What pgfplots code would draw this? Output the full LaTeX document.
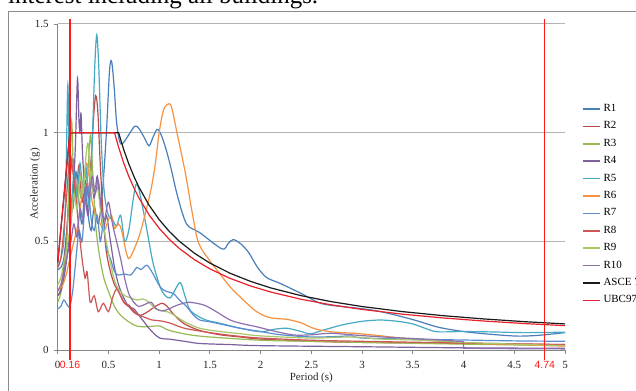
\documentclass[border=0pt]{standalone}
\usepackage{pgfplots}
\pgfplotsset{compat=1.18}
\usepackage{fontspec}
\setmainfont{Liberation Serif}
\newfontfamily\sansf{Liberation Sans}
\definecolor{cR1}{HTML}{4A7EBB}
\definecolor{cR2}{HTML}{BE4B48}
\definecolor{cR3}{HTML}{98B954}
\definecolor{cR4}{HTML}{7D60A0}
\definecolor{cR5}{HTML}{46AAC5}
\definecolor{cR6}{HTML}{F69240}
\definecolor{cR7}{HTML}{5A8ED0}
\definecolor{cR8}{HTML}{CD5754}
\definecolor{cR9}{HTML}{A7C86A}
\definecolor{cR10}{HTML}{8D70B0}
\definecolor{cASCE}{HTML}{1A1A1A}
\definecolor{cUBC}{HTML}{E8222A}
\definecolor{vred}{HTML}{FF1A1A}
\definecolor{axgray}{HTML}{868686}
\definecolor{gridgray}{HTML}{B4B4B4}
\definecolor{framegray}{HTML}{8C8C8C}
\begin{document}
\begin{tikzpicture}[x=1bp,y=1bp]
\useasboundingbox (0,0) rectangle (636,390);
\fill[white] (0,0) rectangle (636,390);
\node[anchor=base west, inner sep=0pt, font=\fontsize{25}{28}\selectfont] at (8,386.5) {interest including all buildings.};
\draw[color=framegray, line width=0.8bp] (8.3,-10) -- (8.3,378.3) -- (650,378.3);
\begin{axis}[
  at={(57.7bp,40bp)}, anchor=south west, scale only axis,
  width=507.3bp, height=326bp,
  xmin=0, xmax=5, ymin=0, ymax=1.5,
  xtick={0,0.5,1,1.5,2,2.5,3,3.5,4,4.5,5},
  ytick={0,0.5,1,1.5},
  axis lines*=left,
  axis line style={draw=axgray, line width=0.8bp},
  tick align=outside, major tick length=3.5bp,
  tick style={draw=axgray, line width=0.8bp},
  ymajorgrids, grid style={draw=gridgray, line width=1bp},
  clip=false,
  /pgf/number format/assume math mode=true,
  tick label style={font=\fontsize{11}{13}\selectfont, text=black!85},
  xticklabel style={yshift=-4bp},
  yticklabel style={xshift=-2bp},
  label style={font=\fontsize{11}{13}\selectfont, text=black!85},
  xlabel={Period (s)}, ylabel={Acceleration (g)},
  xlabel style={at={(axis description cs:0.5,-0.0859)}, anchor=center},
  ylabel style={at={(axis description cs:-0.0447,0.509)}, anchor=center},
  extra x ticks={0.121,4.80},
  extra x tick labels={0.16,4.74},
  extra x tick style={tick style={draw=none}, xticklabel style={text=vred, font=\sansf\fontsize{10.5}{12}\selectfont}},
  legend style={at={(axis description cs:1.0329,0.7546)}, anchor=north west, draw=none, fill=none, inner sep=0pt,
    row sep=8bp, column sep=3bp, font=\fontsize{11}{13}\selectfont,
    nodes={inner sep=0pt, text height=7.2bp, text depth=2.2bp, anchor=west}},
  legend cell align=left,
  legend image code/.code={\draw[#1, line width=1.6bp] (0bp,0bp) -- (17bp,0bp);},
  every axis plot/.append style={line width=1.2bp},
]
\addplot[cR1, smooth] coordinates {(0,0.37)(0.03,0.38)(0.06,0.42)(0.09,0.55)(0.12,0.72)(0.15,0.65)(0.18,0.82)(0.21,0.68)(0.24,0.58)(0.27,0.75)(0.3,0.62)(0.33,0.55)(0.36,0.66)(0.4,0.58)(0.44,0.72)(0.48,1.0)(0.51,1.28)(0.53,1.33)(0.555,1.22)(0.58,1.05)(0.61,0.96)(0.64,0.95)(0.7,0.99)(0.76,1.03)(0.8,1.02)(0.85,0.98)(0.9,0.94)(0.94,0.98)(0.98,1.015)(1.02,0.99)(1.07,0.92)(1.12,0.83)(1.18,0.71)(1.27,0.58)(1.4,0.54)(1.62,0.465)(1.68,0.49)(1.73,0.508)(1.8,0.49)(1.88,0.45)(1.97,0.38)(2.06,0.333)(2.19,0.307)(2.4,0.26)(2.59,0.215)(2.8,0.2)(3.0,0.19)(3.2,0.175)(3.5,0.14)(3.75,0.105)(4.0,0.085)(4.25,0.073)(4.53,0.064)(4.75,0.068)(5,0.08)};
\addlegendentry{R1}
\addplot[cR2, smooth] coordinates {(0,0.25)(0.03,0.28)(0.06,0.38)(0.09,0.55)(0.12,0.78)(0.15,0.88)(0.18,0.72)(0.21,0.85)(0.24,0.68)(0.27,0.78)(0.3,0.72)(0.33,0.88)(0.355,1.08)(0.375,1.17)(0.395,1.1)(0.42,0.85)(0.45,0.6)(0.48,0.45)(0.52,0.36)(0.56,0.3)(0.6,0.27)(0.65,0.22)(0.7,0.2)(0.76,0.17)(0.82,0.16)(0.9,0.18)(0.96,0.2)(1.03,0.215)(1.08,0.2)(1.15,0.16)(1.25,0.12)(1.4,0.09)(1.6,0.07)(1.8,0.06)(2,0.05)(2.5,0.04)(3,0.035)(4,0.03)(5,0.025)};
\addlegendentry{R2}
\addplot[cR3, smooth] coordinates {(0,0.22)(0.03,0.26)(0.06,0.35)(0.09,0.5)(0.115,0.8)(0.138,1.05)(0.155,0.8)(0.175,0.68)(0.2,0.78)(0.23,0.7)(0.26,0.82)(0.29,0.78)(0.31,0.92)(0.325,0.99)(0.345,0.82)(0.37,0.6)(0.4,0.47)(0.45,0.34)(0.5,0.27)(0.56,0.2)(0.62,0.16)(0.7,0.13)(0.78,0.11)(0.88,0.107)(0.95,0.11)(1.01,0.11)(1.1,0.09)(1.3,0.07)(1.5,0.06)(2,0.045)(2.5,0.04)(3,0.035)(4,0.027)(5,0.02)};
\addlegendentry{R3}
\addplot[cR4, smooth] coordinates {(0,0.25)(0.03,0.27)(0.06,0.33)(0.09,0.42)(0.12,0.55)(0.15,0.7)(0.175,0.95)(0.195,1.25)(0.21,1.05)(0.22,1.0)(0.23,1.09)(0.245,0.9)(0.27,0.72)(0.3,0.62)(0.33,0.78)(0.36,0.7)(0.39,0.8)(0.42,0.66)(0.45,0.55)(0.48,0.62)(0.52,0.5)(0.56,0.38)(0.6,0.3)(0.65,0.24)(0.7,0.2)(0.75,0.19)(0.8,0.16)(0.85,0.13)(0.9,0.1)(0.95,0.075)(1.01,0.054)(1.1,0.05)(1.25,0.04)(1.4,0.03)(1.7,0.025)(2,0.02)(3,0.015)(4,0.01)(5,0.008)};
\addlegendentry{R4}
\addplot[cR5, smooth] coordinates {(0,0.38)(0.03,0.42)(0.06,0.5)(0.08,0.75)(0.1,1.22)(0.115,0.75)(0.13,0.62)(0.16,0.82)(0.19,0.7)(0.22,0.86)(0.25,0.72)(0.28,0.84)(0.31,0.66)(0.34,0.95)(0.365,1.3)(0.385,1.45)(0.405,1.3)(0.43,0.95)(0.46,0.72)(0.5,0.62)(0.54,0.6)(0.58,0.57)(0.62,0.62)(0.66,0.5)(0.7,0.55)(0.74,0.68)(0.77,0.76)(0.8,0.74)(0.84,0.65)(0.88,0.55)(0.94,0.4)(1.01,0.29)(1.06,0.25)(1.11,0.24)(1.16,0.28)(1.21,0.31)(1.26,0.24)(1.31,0.18)(1.45,0.14)(1.6,0.123)(1.8,0.1)(2.0,0.084)(2.13,0.095)(2.26,0.1)(2.4,0.085)(2.49,0.074)(2.6,0.089)(2.8,0.115)(3.0,0.132)(3.18,0.138)(3.35,0.132)(3.5,0.12)(3.62,0.1)(3.74,0.084)(4.0,0.085)(4.3,0.083)(4.6,0.08)(5,0.082)};
\addlegendentry{R5}
\addplot[cR6, smooth] coordinates {(0,0.28)(0.04,0.29)(0.08,0.34)(0.12,0.42)(0.16,0.5)(0.2,0.58)(0.24,0.72)(0.28,0.86)(0.31,0.8)(0.34,0.68)(0.38,0.62)(0.42,0.58)(0.46,0.55)(0.5,0.6)(0.53,0.62)(0.56,0.56)(0.6,0.58)(0.63,0.55)(0.67,0.46)(0.7,0.42)(0.74,0.45)(0.8,0.52)(0.86,0.62)(0.92,0.74)(0.96,0.85)(1.0,1.0)(1.04,1.1)(1.08,1.13)(1.12,1.12)(1.18,0.99)(1.26,0.81)(1.33,0.62)(1.39,0.49)(1.5,0.41)(1.6,0.35)(1.7,0.29)(1.83,0.23)(1.95,0.18)(2.06,0.153)(2.15,0.145)(2.26,0.141)(2.4,0.125)(2.52,0.1)(2.69,0.084)(3.0,0.074)(3.5,0.05)(4,0.033)(4.5,0.025)(5,0.018)};
\addlegendentry{R6}
\addplot[cR7, smooth] coordinates {(0,0.19)(0.03,0.2)(0.06,0.23)(0.09,0.21)(0.12,0.2)(0.15,0.28)(0.18,0.42)(0.21,0.55)(0.24,0.5)(0.27,0.68)(0.3,0.75)(0.33,0.6)(0.36,0.55)(0.39,0.62)(0.42,0.5)(0.45,0.58)(0.48,0.47)(0.52,0.42)(0.56,0.36)(0.6,0.345)(0.66,0.35)(0.72,0.345)(0.78,0.38)(0.82,0.37)(0.88,0.39)(0.94,0.35)(1.01,0.29)(1.07,0.27)(1.14,0.26)(1.2,0.23)(1.27,0.2)(1.34,0.16)(1.4,0.138)(1.5,0.13)(1.6,0.12)(1.8,0.1)(2.0,0.085)(2.2,0.07)(2.5,0.06)(2.75,0.062)(2.9,0.065)(3.0,0.055)(3.5,0.05)(4,0.046)(4.5,0.042)(5,0.04)};
\addlegendentry{R7}
\addplot[cR8, smooth] coordinates {(0,0.38)(0.03,0.42)(0.06,0.55)(0.09,0.72)(0.12,0.9)(0.15,0.82)(0.18,0.7)(0.21,0.55)(0.24,0.42)(0.27,0.33)(0.29,0.36)(0.32,0.22)(0.36,0.25)(0.4,0.176)(0.45,0.215)(0.5,0.176)(0.54,0.24)(0.58,0.28)(0.62,0.25)(0.66,0.215)(0.7,0.207)(0.76,0.175)(0.8,0.16)(0.86,0.15)(0.93,0.138)(1.0,0.135)(1.1,0.125)(1.25,0.1)(1.5,0.08)(1.75,0.065)(2,0.055)(2.5,0.045)(3,0.04)(4,0.032)(5,0.025)};
\addlegendentry{R8}
\addplot[cR9, smooth] coordinates {(0,0.3)(0.03,0.33)(0.06,0.4)(0.1,0.5)(0.13,0.58)(0.16,0.72)(0.19,0.65)(0.22,0.8)(0.25,0.72)(0.28,0.9)(0.3,0.95)(0.32,0.82)(0.35,0.72)(0.39,0.75)(0.43,0.62)(0.47,0.52)(0.52,0.4)(0.56,0.32)(0.6,0.28)(0.66,0.25)(0.72,0.24)(0.78,0.23)(0.84,0.235)(0.9,0.22)(0.96,0.19)(1.03,0.18)(1.08,0.176)(1.15,0.16)(1.25,0.13)(1.4,0.1)(1.6,0.085)(1.8,0.075)(2,0.065)(2.5,0.055)(2.9,0.06)(3.2,0.05)(3.6,0.045)(4,0.035)(4.5,0.027)(5,0.02)};
\addlegendentry{R9}
\addplot[cR10, smooth] coordinates {(0,0.27)(0.03,0.3)(0.06,0.36)(0.1,0.45)(0.13,0.5)(0.16,0.58)(0.19,0.52)(0.22,0.65)(0.25,0.6)(0.28,0.75)(0.31,0.7)(0.34,0.8)(0.37,0.72)(0.4,0.78)(0.43,0.65)(0.46,0.6)(0.5,0.68)(0.54,0.58)(0.58,0.5)(0.62,0.42)(0.66,0.33)(0.7,0.26)(0.75,0.22)(0.8,0.2)(0.86,0.21)(0.92,0.22)(0.97,0.19)(1.03,0.18)(1.1,0.19)(1.17,0.205)(1.24,0.215)(1.3,0.22)(1.44,0.207)(1.55,0.18)(1.7,0.138)(1.83,0.12)(1.96,0.107)(2.15,0.085)(2.33,0.069)(2.5,0.07)(2.69,0.077)(2.92,0.069)(3.2,0.06)(3.5,0.053)(3.8,0.045)(4.0,0.038)};
\addlegendentry{R10}
\addplot[cR10, sharp plot, forget plot] coordinates {(4.0,0.038)(4.0,0.008)(4.5,0.006)(5,0.005)};
\addplot[cASCE, sharp plot] coordinates {(0,0.4)(0.12,1)(0.6,1)(0.65,0.9231)(0.7,0.8571)(0.75,0.8)(0.8,0.75)(0.9,0.6667)(1.0,0.6)(1.1,0.5455)(1.2,0.5)(1.35,0.4444)(1.5,0.4)(1.7,0.3529)(1.9,0.3158)(2.1,0.2857)(2.4,0.25)(2.7,0.2222)(3.0,0.2)(3.4,0.1765)(3.8,0.1579)(4.2,0.1429)(4.6,0.1304)(5.0,0.12)};
\addlegendentry{ASCE 7}
\addplot[cUBC, sharp plot] coordinates {(0,0.4)(0.12,1)(0.56,1)(0.6,0.9333)(0.65,0.8615)(0.7,0.8)(0.75,0.7467)(0.8,0.7)(0.9,0.6222)(1.0,0.56)(1.1,0.5091)(1.2,0.4667)(1.35,0.4148)(1.5,0.3733)(1.7,0.3294)(1.9,0.2947)(2.1,0.2667)(2.4,0.2333)(2.7,0.2074)(3.0,0.1867)(3.4,0.1647)(3.8,0.1474)(4.2,0.1333)(4.6,0.1217)(5.0,0.112)};
\addlegendentry{UBC97}
\addplot[vred, line width=1.3bp, forget plot] coordinates {(0.121,-0.046)(0.121,1.522)};
\addplot[vred, line width=1.3bp, forget plot] coordinates {(4.80,-0.046)(4.80,1.522)};
\end{axis}
\end{tikzpicture}
\end{document}
